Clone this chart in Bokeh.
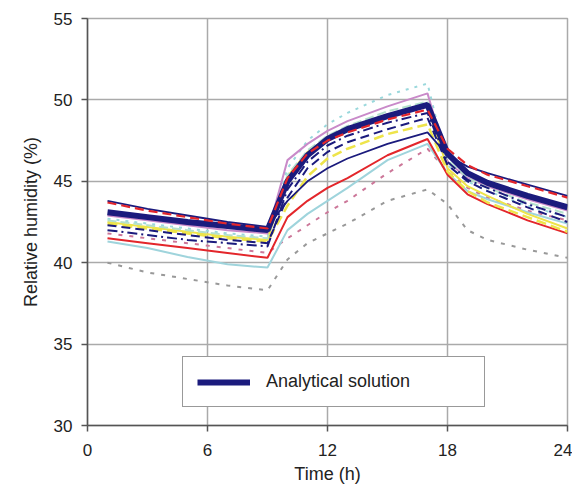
from bokeh.plotting import figure
from bokeh.models import Range1d, FixedTicker, Legend, LegendItem
from bokeh.embed import file_html
from bokeh.resources import INLINE

# time (h)
t = [1, 3, 5, 7, 9, 10, 11, 12, 13, 15, 17, 18, 19, 20, 22, 24]

# relative humidity (%) series
analytical   = [43.1, 42.8, 42.5, 42.25, 42.0, 45.0, 46.6, 47.6, 48.2, 49.0, 49.7, 46.7, 45.5, 44.9, 44.1, 43.4]
navy_thin    = [43.8, 43.3, 42.9, 42.5, 42.2, 43.8, 45.0, 45.8, 46.4, 47.3, 48.0, 46.6, 45.9, 45.5, 44.8, 44.1]
red_dashed   = [43.7, 43.2, 42.8, 42.4, 42.1, 45.2, 46.7, 47.5, 48.0, 48.8, 49.4, 47.0, 46.0, 45.4, 44.7, 44.0]
orchid       = [42.9, 42.6, 42.3, 42.0, 41.8, 46.3, 47.3, 48.1, 48.7, 49.6, 50.4, 46.2, 45.2, 44.7, 43.9, 43.2]
cyan_dotted  = [42.7, 42.4, 42.1, 41.8, 41.6, 45.8, 47.5, 48.5, 49.2, 50.3, 51.0, 46.0, 45.0, 44.4, 43.5, 42.8]
yellow       = [42.5, 42.2, 41.9, 41.6, 41.4, 45.3, 46.8, 47.7, 48.3, 49.1, 49.6, 45.8, 44.7, 44.1, 43.0, 42.1]
navy_dashed  = [42.3, 42.0, 41.7, 41.4, 41.2, 44.0, 45.8, 46.8, 47.4, 48.2, 48.9, 46.0, 45.0, 44.4, 43.4, 42.5]
yellow_dash  = [42.4, 42.1, 41.8, 41.5, 41.3, 43.5, 45.3, 46.4, 47.0, 47.9, 48.5, 45.6, 44.4, 43.7, 42.8, 41.9]
navy_dashdot = [42.0, 41.7, 41.4, 41.2, 41.0, 44.5, 46.2, 47.2, 47.8, 48.6, 49.2, 46.2, 45.1, 44.6, 43.6, 42.8]
red_solid    = [41.5, 41.2, 40.9, 40.6, 40.3, 42.8, 43.8, 44.6, 45.2, 46.6, 47.6, 45.4, 44.2, 43.6, 42.6, 41.8]
lblue_solid  = [41.3, 40.9, 40.35, 39.9, 39.7, 42.0, 43.0, 43.8, 44.6, 46.3, 47.3, 45.5, 44.4, 43.9, 43.1, 42.4]
pink_dotted  = [41.8, 41.5, 41.2, 40.9, 40.6, 41.5, 42.3, 43.1, 43.8, 45.5, 47.0, 45.6, 44.6, 44.0, 43.2, 42.6]
cyan_dashed  = [42.6, 42.3, 42.0, 41.7, 41.5, 45.4, 46.9, 47.8, 48.4, 49.3, 49.9, 46.3, 45.2, 44.6, 43.7, 43.0]
gray_dotted  = [40.0, 39.4, 39.0, 38.6, 38.3, 40.2, 41.2, 41.8, 42.4, 43.8, 44.5, 43.6, 42.0, 41.4, 40.8, 40.3]

x_ticks = [0, 6, 12, 18, 24]
y_ticks = [30, 35, 40, 45, 50, 55]

FONT = "Liberation Sans"
NAVY = "#1b1b7d"

p = figure(width=572, height=489, output_backend="svg", toolbar_location=None,
           x_range=Range1d(0, 24), y_range=Range1d(30, 55),
           min_border_left=87, min_border_right=5, min_border_top=18, min_border_bottom=64)

p.background_fill_color = "white"
p.border_fill_color = "white"
p.outline_line_color = "#aaaaaa"
p.outline_line_width = 1.5

for ax in (p.xaxis[0], p.yaxis[0]):
    ax.axis_line_color = "#555555"
    ax.axis_line_width = 1.5
    ax.major_tick_line_color = "#555555"
    ax.major_tick_line_width = 1.5
    ax.major_tick_out = 6
    ax.major_tick_in = 0
    ax.minor_tick_line_color = None
    ax.major_label_text_font = FONT
    ax.major_label_text_font_size = "17px"
    ax.major_label_text_color = "#222222"
    ax.axis_label_text_font = FONT
    ax.axis_label_text_font_size = "18px"
    ax.axis_label_text_font_style = "normal"
    ax.axis_label_text_color = "#222222"

p.xaxis.ticker = FixedTicker(ticks=x_ticks)
p.yaxis.ticker = FixedTicker(ticks=y_ticks)
p.xaxis.axis_label = "Time (h)"
p.yaxis.axis_label = "Relative humidity (%)"
p.xaxis.major_label_standoff = 12
p.xaxis.axis_label_standoff = 5
p.yaxis.major_label_standoff = 9
p.yaxis.axis_label_standoff = 10

p.xgrid.ticker = FixedTicker(ticks=x_ticks)
p.ygrid.ticker = FixedTicker(ticks=y_ticks)
p.grid.grid_line_color = "#aaaaaa"
p.grid.grid_line_width = 1.5

# numerical solutions
p.line(t, gray_dotted, line_color="#999999", line_width=2, line_dash="4 7")
p.line(t, pink_dotted, line_color="#cc7799", line_width=2, line_dash="4 7")
p.line(t, lblue_solid, line_color="#9fd4dc", line_width=2)
p.line(t, red_solid, line_color="#e3262b", line_width=2)
p.line(t, cyan_dotted, line_color="#9ad8dc", line_width=2, line_dash="3 6")
p.line(t, orchid, line_color="#c98ac9", line_width=2)
p.line(t, yellow, line_color="#eee44a", line_width=2)
p.line(t, cyan_dashed, line_color="#b4e0cc", line_width=2, line_dash="9 4")
p.line(t, yellow_dash, line_color="#eee44a", line_width=2.5, line_dash="10 5")
p.line(t, navy_dashdot, line_color=NAVY, line_width=2, line_dash="10 4 2 4")
p.line(t, navy_dashed, line_color=NAVY, line_width=2, line_dash="9 5")
p.line(t, navy_thin, line_color=NAVY, line_width=1.8)
r_an = p.line(t, analytical, line_color=NAVY, line_width=6)
p.line(t, red_dashed, line_color="#e3262b", line_width=2.2, line_dash="9 5")

legend = Legend(items=[LegendItem(label="Analytical solution", renderers=[r_an])],
                location=(95, 18), orientation="vertical")
legend.padding = 14
legend.margin = 0
legend.glyph_width = 53
legend.glyph_height = 20
legend.label_height = 20
legend.label_width = 204
legend.label_standoff = 16
legend.label_text_font = FONT
legend.label_text_font_size = "18px"
legend.label_text_color = "#222222"
legend.border_line_color = "#333333"
legend.border_line_width = 1.5
legend.background_fill_color = "white"
legend.background_fill_alpha = 1.0
p.add_layout(legend, "center")

open("out.html", "w").write(file_html(p, INLINE))
